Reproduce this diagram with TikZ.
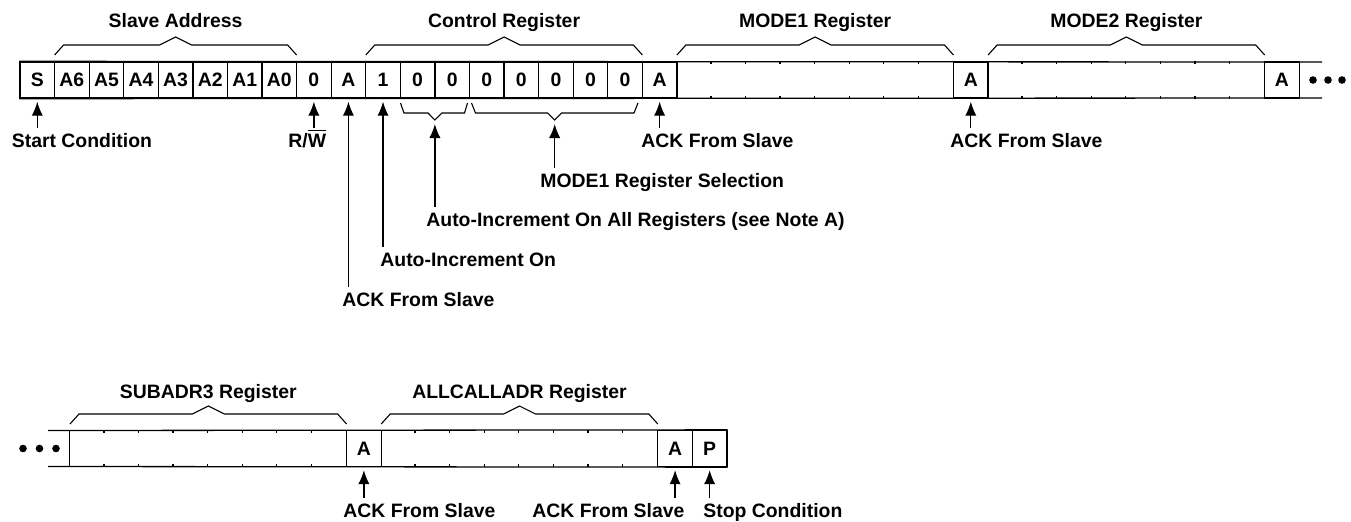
\documentclass[tikz,border=0pt]{standalone}
\usepackage{fontspec}
\setmainfont{Liberation Sans}
\usetikzlibrary{calc,arrows.meta}

\newcommand\bitfont{\fontsize{9.7}{11}\selectfont\bfseries}

\tikzset{
	bit/.style={draw, line width=0.65pt, minimum width=17.29pt, minimum height=18pt, inner sep=0pt, font=\bitfont},
	regbit/.style={bit, draw=none},
	frame/.style={line width=0.65pt},
	brace/.style={line width=0.55pt, line join=miter},
	arr/.style={-{Latex[length=7pt,width=5.6pt]}, line width=0.65pt, shorten >=1.5pt},
	lbl/.style={font=\bitfont, inner sep=0pt, text height=7pt, text depth=2pt, anchor=base west},
	ttl/.style={font=\bitfont, inner sep=0pt, anchor=base}
}

\begin{document}
\begin{tikzpicture}[x=0.5pt,y=-0.5pt]
	\useasboundingbox (0,0) rectangle (1351,521);

	%upper row: bits
	\foreach \t [count=\i from 0] in {S,A6,A5,A4,A3,A2,A1,A0,0,A,1,0,0,0,0,0,0,0,A}
		\node[bit] (t\i) at ({37.29+34.575*\i},80) {\t};
	\foreach \i in {19,...,26} \node[regbit] (t\i) at ({37.29+34.575*\i},80) {};
	\foreach \i in {28,...,35} \node[regbit] (t\i) at ({37.29+34.575*\i},80) {};
	\node[bit] (t27) at ({37.29+34.575*27},80) {A};
	\node[bit] (t36) at ({37.29+34.575*36},80) {A};
	\draw[frame] (t0.north west) -- (1322,62);	%top line
	\draw[frame] (t0.south west) -- (1322,98);	%bottom line
	\foreach \i in {20,...,26,29,30,31,32,33,34,35} {
		\draw[frame] (t\i.north west) -- ++(0,3);
		\draw[frame] (t\i.south west) -- ++(0,-3);
	}
	\foreach \x in {1313,1328,1342} \fill (\x,80) circle (1.9pt);	%dots

	%lower row: bits
	\foreach \i in {0,...,7,9,10,11,12,13,14,15,16} \node[regbit] (b\i) at ({87.29+34.575*\i},448.5) {};
	\node[bit] (b8) at ({87.29+34.575*8},448.5) {A};
	\node[bit] (b17) at ({87.29+34.575*17},448.5) {A};
	\node[bit] (b18) at ({87.29+34.575*18},448.5) {P};
	\draw[frame] (48,430.5) -- (b18.north east);	%top line
	\draw[frame] (48,466.5) -- (b18.south east);	%bottom line
	\draw[frame] (b0.north west) -- (b0.south west);
	\foreach \i in {1,...,7,10,11,12,13,14,15,16} {
		\draw[frame] (b\i.north west) -- ++(0,3);
		\draw[frame] (b\i.south west) -- ++(0,-3);
	}
	\foreach \x in {23,39.5,56} \fill (\x,448.5) circle (1.9pt);	%dots

	%braces over the fields
	\foreach \xa/\xb/\yb in {54.6/296.6/55, 365.8/642.4/55, 676.9/953.5/55, 988.1/1264.7/55, 70/346.6/424, 381.2/657.8/424}
		\draw[brace] (\xa,\yb) -- ++(9,-10) -- ({(\xa+\xb)/2-16},\yb-10) -- ({(\xa+\xb)/2},\yb-18)
			-- ({(\xa+\xb)/2+16},\yb-10) -- (\xb-9,\yb-10) -- (\xb,\yb);
	\node[ttl] (hSlave) at (175.6,27.5) {Slave Address};
	\node[ttl] (hCtrl) at (504.1,27.5) {Control Register};
	\node[ttl] (hMode1) at (815.2,27.5) {MODE1 Register};
	\node[ttl] (hMode2) at (1126.4,27.5) {MODE2 Register};
	\node[ttl] (hSub3) at (208.3,398.5) {SUBADR3 Register};
	\node[ttl] (hAll) at (519.5,398.5) {ALLCALLADR Register};

	%braces under the control bits
	\draw[brace] (400.5,103) -- (404,113) -- (428,113) -- (434.9,120) -- (441.8,113) -- (464.5,113) -- (467.5,103);
	\draw[brace] (471.5,103) -- (475.5,113) -- (547.7,113) -- (554.7,120) -- (561.7,113) -- (634,113) -- (638,103);
	\coordinate (pkA) at (434.9,120);
	\coordinate (pkB) at (554.7,120);

	%labels
	\node[lbl] (lStart) at (11.5,147) {Start Condition};
	\node[lbl] (lRW) at (288,147) {R/$\overline{\mbox{W}}$};
	\node[lbl] (lAck1) at (342,306) {ACK From Slave};
	\node[lbl] (lAutoOn) at (380,266) {Auto-Increment On};
	\node[lbl] (lAutoAll) at (426,226) {Auto-Increment On All Registers (see Note A)};
	\node[lbl] (lSel) at (540,187) {MODE1 Register Selection};
	\node[lbl] (lAck2) at (641,147) {ACK From Slave};
	\node[lbl] (lAck3) at (950,147) {ACK From Slave};
	\node[lbl] (lAck4) at (343,517) {ACK From Slave};
	\node[lbl] (lAck5) at (532,517) {ACK From Slave};
	\node[lbl] (lStop) at (703,517) {Stop Condition};

	%arrows
	\draw[arr] ($(lStart.north -| t0)+(0,-5)$) -- (t0.south);
	\draw[arr] ($(lRW.north -| t8)+(0,-5)$) -- (t8.south);
	\draw[arr] ($(lAck1.north -| t9)+(0,-5)$) -- (t9.south);
	\draw[arr] ($(lAutoOn.north -| t10)+(0,-5)$) -- (t10.south);
	\draw[arr, shorten >=2pt] ($(lAutoAll.north -| pkA)+(0,-5)$) -- (pkA);
	\draw[arr, shorten >=2pt] ($(lSel.north -| pkB)+(0,-5)$) -- (pkB);
	\draw[arr] ($(lAck2.north -| t18)+(0,-5)$) -- (t18.south);
	\draw[arr] ($(lAck3.north -| t27)+(0,-5)$) -- (t27.south);
	\draw[arr] ($(lAck4.north -| b8)+(0,-5)$) -- (b8.south);
	\draw[arr] ($(lAck5.north -| b17)+(0,-5)$) -- (b17.south);
	\draw[arr] ($(lStop.north -| b18)+(0,-5)$) -- (b18.south);
\end{tikzpicture}
\end{document}
